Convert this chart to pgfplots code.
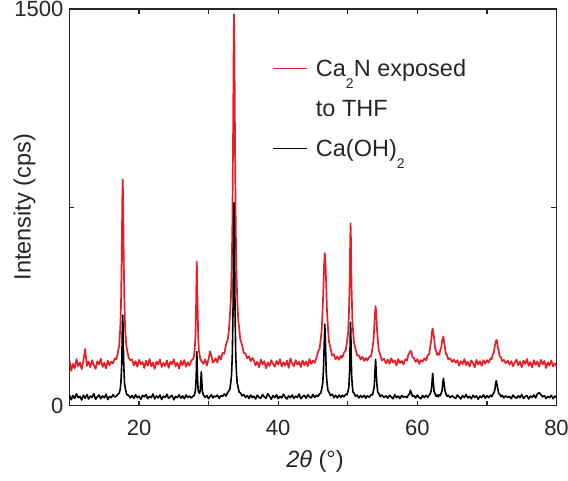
\documentclass[border=0pt]{standalone}
\usepackage{pgfplots}
\pgfplotsset{compat=1.18}
\usepackage{pgfplotstable}
\usepackage{fontspec}
\setmainfont{Liberation Sans}

\definecolor{xrdred}{RGB}{232,30,38}
\newcommand{\tickfont}{\fontsize{22}{26}\selectfont}
\newcommand{\labelfont}{\fontsize{23.5}{28}\selectfont}
\newcommand{\sub}[1]{\raisebox{-12pt}{\fontsize{14}{16}\selectfont #1}}

% XRD patterns: 2theta (deg), Ca2N after THF exposure, Ca(OH)2 reference
\pgfplotstableread{
tt red black
10.00 170 40
10.25 132 22
10.50 158 38
10.75 141 27
11.00 176 44
11.25 149 30
11.50 163 35
11.75 138 21
12.00 171 39
12.25 214 28
12.50 150 42
12.75 167 25
13.00 145 36
13.25 172 31
13.50 153 45
13.75 139 24
14.00 168 33
14.25 155 40
14.50 177 26
14.75 146 37
15.00 162 29
15.25 141 43
15.50 170 23
15.75 152 35
16.00 166 30
16.25 160 41
16.50 178 33
16.75 176 36
17.00 207 44
17.15 228 47
17.30 296 63
17.40 375 92
17.50 553 151
17.55 672 217
17.60 802 294
17.65 855 342
17.70 796 298
17.75 679 213
17.80 547 155
17.90 381 88
18.00 288 67
18.15 233 50
18.25 214 41
18.50 181 39
18.75 171 29
19.00 175 38
19.25 152 27
19.50 168 41
19.75 147 30
20.00 173 36
20.25 156 24
20.50 165 39
20.75 142 33
21.00 170 42
21.25 151 26
21.50 176 35
21.75 148 30
22.00 163 44
22.25 139 25
22.50 167 37
22.75 155 29
23.00 174 40
23.25 146 23
23.50 161 36
23.75 150 31
24.00 171 43
24.25 143 27
24.50 166 34
24.75 157 39
25.00 175 22
25.25 149 35
25.50 162 30
25.75 140 41
26.00 169 28
26.25 153 37
26.50 172 26
26.75 147 40
27.00 164 31
27.25 151 36
27.50 170 29
27.75 176 36
27.90 186 37
28.00 214 45
28.10 257 58
28.20 383 101
28.25 490 154
28.30 544 204
28.35 484 158
28.40 388 103
28.50 262 57
28.60 208 50
28.70 193 46
28.80 176 59
28.90 170 104
28.95 172 128
29.00 165 100
29.10 166 54
29.25 158 40
29.50 174 31
29.75 152 38
30.00 178 26
30.20 205 35
30.40 188 41
30.60 163 29
30.80 168 36
31.00 179 33
31.25 163 40
31.50 188 28
31.75 174 37
32.00 199 35
32.25 196 44
32.50 231 36
32.75 249 50
32.90 281 55
33.05 336 62
33.20 406 91
33.30 505 119
33.40 658 190
33.50 963 345
33.55 1173 497
33.60 1388 669
33.65 1480 767
33.70 1381 675
33.75 1179 491
33.80 956 350
33.90 665 185
34.00 498 124
34.10 414 86
34.25 327 68
34.40 289 50
34.55 251 49
34.80 229 37
35.05 199 42
35.30 197 31
35.55 179 38
35.80 186 27
36.05 168 40
36.30 180 30
36.50 171 36
36.75 152 25
37.00 166 39
37.25 145 31
37.50 174 28
37.75 156 42
38.00 168 33
38.25 141 27
38.50 163 45
38.75 150 36
39.00 172 24
39.25 158 38
39.50 147 30
39.75 169 41
40.00 155 26
40.25 175 35
40.50 148 29
40.75 164 43
41.00 152 32
41.25 170 25
41.50 143 37
41.75 178 30
42.00 160 40
42.25 149 27
42.50 172 36
42.75 155 31
43.00 166 44
43.25 146 26
43.50 171 34
43.75 153 39
44.00 167 28
44.25 149 41
44.50 176 33
44.75 158 29
45.00 170 42
45.25 162 31
45.50 181 39
45.75 205 35
45.95 214 45
46.10 249 46
46.25 285 62
46.40 372 85
46.50 446 133
46.60 538 221
46.70 576 308
46.80 533 226
46.90 455 128
47.00 367 90
47.15 294 57
47.30 241 51
47.50 220 38
47.75 189 43
48.00 194 30
48.25 175 39
48.50 186 29
48.75 173 40
49.00 189 31
49.20 181 39
49.45 200 33
49.70 208 43
49.90 244 41
50.05 278 56
50.15 337 70
50.25 434 122
50.30 529 173
50.35 630 261
50.40 689 315
50.45 636 257
50.50 524 178
50.55 441 118
50.65 332 74
50.75 286 51
50.90 237 47
51.10 216 35
51.35 189 40
51.60 190 29
51.85 174 38
52.10 185 31
52.35 169 39
52.60 180 28
52.80 171 37
53.10 184 32
53.35 188 41
53.55 218 40
53.70 248 57
53.80 296 72
53.90 345 124
54.00 376 175
54.10 349 119
54.20 289 77
54.30 253 52
54.45 209 46
54.65 194 34
54.90 171 40
55.20 177 31
55.50 160 37
55.75 174 28
56.00 158 39
56.25 179 33
56.50 163 26
56.75 171 41
57.00 152 30
57.25 176 36
57.50 161 27
57.75 169 38
58.00 156 32
58.25 175 35
58.50 170 30
58.70 192 40
58.85 198 43
59.00 207 58
59.15 203 47
59.30 183 35
59.50 180 38
59.75 165 29
60.00 176 40
60.25 158 31
60.50 172 26
60.75 166 38
61.00 179 30
61.25 171 39
61.50 190 31
61.70 195 40
61.85 222 44
62.00 247 58
62.10 279 83
62.20 292 122
62.30 273 88
62.40 257 54
62.55 218 45
62.70 206 35
62.85 191 40
63.00 198 33
63.15 192 41
63.30 210 38
63.45 221 49
63.55 246 56
63.65 255 84
63.75 261 103
63.85 238 80
63.95 224 60
64.10 196 45
64.25 192 35
64.45 175 39
64.70 179 30
65.00 165 37
65.25 174 31
65.50 162 27
65.75 172 40
66.00 151 33
66.25 168 25
66.50 157 38
66.75 176 30
67.00 153 42
67.25 166 29
67.50 148 35
67.75 171 26
68.00 160 39
68.25 145 31
68.50 173 37
68.75 155 24
69.00 168 36
69.25 150 30
69.50 172 41
69.75 158 28
70.00 172 38
70.25 162 30
70.50 178 39
70.70 176 34
70.85 194 43
71.00 200 49
71.15 229 61
71.25 238 84
71.35 248 94
71.45 244 80
71.55 222 65
71.70 207 45
71.85 185 43
72.00 184 34
72.20 168 39
72.45 173 29
72.70 160 37
73.00 170 31
73.25 155 35
73.50 168 26
73.75 149 40
74.00 163 32
74.25 174 28
74.50 152 37
74.75 167 30
75.00 145 42
75.25 170 27
75.50 158 34
75.75 176 38
76.00 150 25
76.25 165 36
76.50 144 31
76.75 172 40
77.00 154 29
77.25 167 44
77.50 147 49
77.75 173 42
78.00 156 33
78.25 169 38
78.50 142 27
78.75 164 35
79.00 151 30
79.25 171 39
79.50 148 26
79.75 160 36
80.00 150 31
}\xrd

\begin{document}
\begin{tikzpicture}
\begin{axis}[
  scale only axis,
  width=487pt, height=396.7pt,
  xmin=10, xmax=80, ymin=0, ymax=1500,
  xtick={20,30,40,50,60,70,80},
  xticklabels={20,,40,,60,,80},
  ytick={0,750,1500},
  yticklabels={0,,1500},
  tick align=inside,
  major tick length=5pt,
  tick style={line width=1.2pt, black!85},
  axis line style={line width=1.6pt, black!85},
  /pgf/number format/assume math mode=true,
  xticklabel style={font=\tickfont, text=black!85, anchor=base, yshift=-29.4pt},
  yticklabel style={font=\tickfont, text=black!85, anchor=east, inner sep=0pt, xshift=-6pt},
  xlabel={{\itshape 2θ} (°)},
  ylabel={Intensity (cps)},
  xlabel style={font=\labelfont, text=black!85, at={([xshift=2pt,yshift=-62pt]axis description cs:0.5,0)}, anchor=base},
  ylabel style={font=\labelfont, text=black!85, at={([xshift=-45pt]axis description cs:0,0.5)}, anchor=center},
  legend cell align=left,
  legend image code/.code={\draw[#1, line width=1.3pt] (0pt,0pt) -- (33.7pt,0pt);},
  legend style={draw=none, fill=none, inner sep=0pt, outer sep=0pt,
    at={(axis cs:39.2,1304.4)}, anchor=north west,
    font=\labelfont, text=black!85, row sep=24pt, column sep=8.3pt,
    nodes={text height=16pt, text depth=0pt, inner sep=0pt}},
]
\addplot[xrdred, line width=1.7pt, line join=round] table[x=tt, y=red] {\xrd};
\addlegendentry{Ca\sub{2}N exposed}
\addlegendimage{empty legend}
\addlegendentry{to THF}
\addplot[black, line width=1.6pt, line join=round] table[x=tt, y=black] {\xrd};
\addlegendentry{Ca(OH)\sub{2}}
\end{axis}
\pgfresetboundingbox
\path[use as bounding box] (-69.5pt,-74.4pt) rectangle (498.5pt,405.6pt);
\end{tikzpicture}
\end{document}
